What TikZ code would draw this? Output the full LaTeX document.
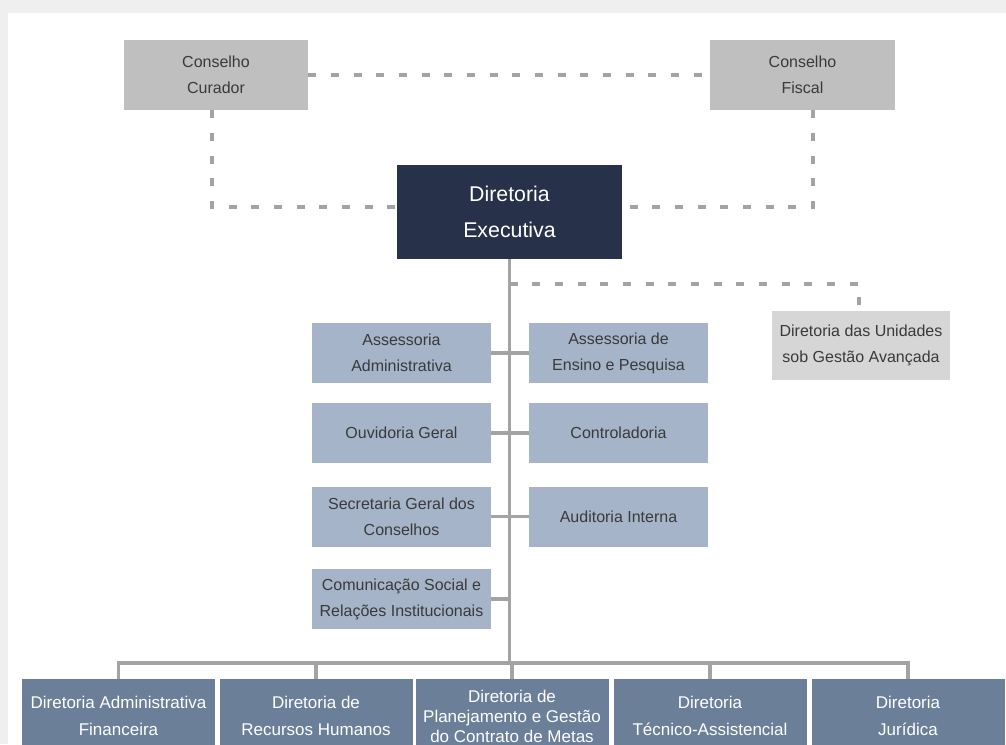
\documentclass[tikz,border=0pt]{standalone}
\usepackage{fontspec}
\setmainfont{Liberation Sans}
\definecolor{bgout}{HTML}{EFEFEF}
\definecolor{conselho}{HTML}{BFBFBF}
\definecolor{unid}{HTML}{D6D6D6}
\definecolor{execc}{HTML}{27314A}
\definecolor{rowc}{HTML}{A6B4C9}
\definecolor{dirc}{HTML}{6B7F99}
\definecolor{linec}{HTML}{A3A3A3}
\definecolor{txtdark}{HTML}{3A3A3A}
\tikzset{
  box/.style={rectangle, inner sep=0pt, align=center},
  cons/.style={box, fill=conselho, text=txtdark, minimum height=52.5pt, font=\fontsize{12}{19.5}\selectfont},
  execbox/.style={box, fill=execc, text=white, minimum width=168.75pt, minimum height=70.5pt, font=\fontsize{16}{27}\selectfont},
  unidbox/.style={box, fill=unid, text=txtdark, minimum width=133.5pt, minimum height=51.75pt, font=\fontsize{12}{19.5}\selectfont},
  rowbox/.style={box, fill=rowc, text=txtdark, minimum width=134.25pt, minimum height=45pt, font=\fontsize{12}{19.5}\selectfont},
  dirbox/.style={box, fill=dirc, text=white, minimum width=144.75pt, minimum height=55.5pt, font=\fontsize{12.75}{20.25}\selectfont},
  conn/.style={draw=linec, line width=2.4pt},
  dashline/.style={draw=linec, line width=2.4pt, dash pattern=on 6pt off 11pt},
}
\begin{document}
\begin{tikzpicture}[x=0.75pt, y=-0.75pt]
\useasboundingbox (0,0) rectangle (1006,744);
\fill[bgout] (0,0) rectangle (1006,744);
\fill[white] (8,13) rectangle (1006,744);

% top councils
\node[cons, minimum width=138pt] (cc) at (216,75) {Conselho\\Curador};
\node[cons, minimum width=138.75pt] (cf) at (802.5,75) {Conselho\\Fiscal};
\node[execbox] (exec) at (509.5,212) {Diretoria\\Executiva};

\coordinate (ccd) at (212,207);
\coordinate (cfd) at (813,207);
\draw[dashline] (cc.east) -- (cf.west);
\draw[dashline] (cc.south -| ccd) -- (ccd) -- (exec.west |- ccd);
\draw[dashline] (cf.south -| cfd) -- (cfd) -- (exec.east |- cfd);

% unidades
\node[unidbox] (un) at (861,345.5) {Diretoria das Unidades\\sob Gestão Avançada};
\coordinate (ud) at (859,284);
\draw[dashline] (exec.south |- ud) -- (ud) -- (un.north -| ud);

% advisory boxes
\node[rowbox] (a1) at (401.5,353) {Assessoria\\Administrativa};
\node[rowbox] (b1) at (618.5,353) {Assessoria de\\Ensino e Pesquisa};
\node[rowbox] (a2) at (401.5,433) {Ouvidoria Geral};
\node[rowbox] (b2) at (618.5,433) {Controladoria};
\node[rowbox] (a3) at (401.5,516.5) {Secretaria Geral dos\\Conselhos};
\node[rowbox] (b3) at (618.5,516.5) {Auditoria Interna};
\node[rowbox] (a4) at (401.5,599) {Comunicação Social e\\Relações Institucionais};

% bottom directorates
\node[dirbox] (d1) at (118.5,716) {Diretoria Administrativa\\Financeira};
\node[dirbox] (d2) at (316,716) {Diretoria de\\Recursos Humanos};
\node[dirbox, font=\fontsize{12.75}{15}\selectfont] (d3) at (512,716) {Diretoria de\\Planejamento e Gestão\\do Contrato de Metas};
\node[dirbox] (d4) at (710,716) {Diretoria\\Técnico-Assistencial};
\node[dirbox] (d5) at (908,716) {Diretoria\\Jurídica};

\coordinate (bus) at (509.5,663);
\draw[conn] (exec.south) -- (bus);
\draw[conn] (a1.east) -- (b1.west);
\draw[conn] (a2.east) -- (b2.west);
\draw[conn] (a3.east) -- (b3.west);
\draw[conn] (a4.east) -- (a4.east -| exec.south);
\draw[conn] (d1.north) |- (bus) -| (d5.north);
\draw[conn] (d2.north) -- (d2.north |- bus);
\draw[conn] (d3.north) -- (d3.north |- bus);
\draw[conn] (d4.north) -- (d4.north |- bus);
\end{tikzpicture}
\end{document}
